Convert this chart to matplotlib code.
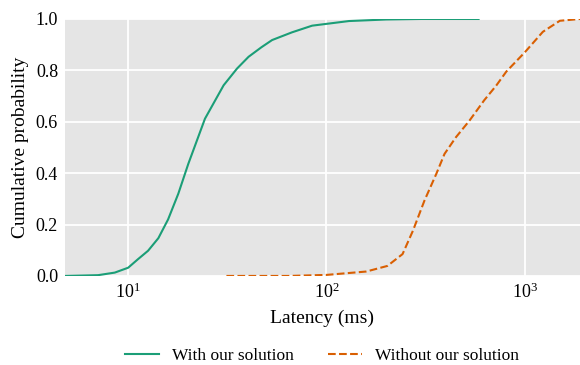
import matplotlib
matplotlib.use('Agg')
import matplotlib.pyplot as plt

plt.rcParams['font.family'] = 'Liberation Serif'
plt.rcParams['mathtext.fontset'] = 'custom'
plt.rcParams['mathtext.rm'] = 'Liberation Serif'
plt.rcParams['mathtext.default'] = 'regular'

# latency CDF with our solution (ms, cumulative probability)
with_lat = [4.8, 7.05, 8.56, 10.0, 11.2, 12.6, 14.2, 15.9, 17.9, 20.1,
            24.4, 30.3, 35.4, 40.5, 47.0, 53.2, 67.0, 84.7, 130, 200, 300, 585]
with_cdf = [0.0, 0.003, 0.013, 0.032, 0.065, 0.098, 0.147, 0.22, 0.32, 0.436,
            0.612, 0.742, 0.807, 0.853, 0.89, 0.918, 0.948, 0.974, 0.992, 0.998, 1.0, 1.0]

# latency CDF without our solution
without_lat = [31.3, 64.5, 100, 158, 164, 203, 242, 273, 312, 358, 394, 450, 527,
               625, 717, 807, 1000, 1234, 1503, 1900]
without_cdf = [0.0, 0.0, 0.004, 0.017, 0.02, 0.039, 0.085, 0.176, 0.293, 0.397, 0.475,
               0.54, 0.605, 0.684, 0.74, 0.795, 0.87, 0.95, 0.993, 1.0]

fig = plt.figure(figsize=(5.8, 3.65), dpi=100)
ax = fig.add_axes([0.112, 0.244, 0.888, 0.704])

ax.plot(with_lat, with_cdf, color='#1b9e77', lw=1.5, label='With our solution')
ax.plot(without_lat, without_cdf, color='#d95f02', lw=1.5, ls='--',
        label='Without our solution')

ax.set_xscale('log')
ax.set_xlim(4.8, 1900)
ax.set_ylim(0, 1)
ax.set_facecolor('#e5e5e5')
ax.grid(True, which='major', color='white', lw=1.3)
ax.set_axisbelow(True)
for s in ax.spines.values():
    s.set_visible(False)
ax.tick_params(which='both', length=0, labelsize=13, pad=5)
ax.set_yticks([0, 0.2, 0.4, 0.6, 0.8, 1.0])

ax.set_xlabel('Latency (ms)', fontsize=14, labelpad=5)
ax.set_ylabel('Cumulative probability', fontsize=14, labelpad=5)

fig.legend(loc='center', bbox_to_anchor=(0.555, 0.025), ncol=2, frameon=False,
           fontsize=12.5, handlelength=1.95, handletextpad=0.75, columnspacing=2.0)

fig.savefig('out.png', dpi=100)
